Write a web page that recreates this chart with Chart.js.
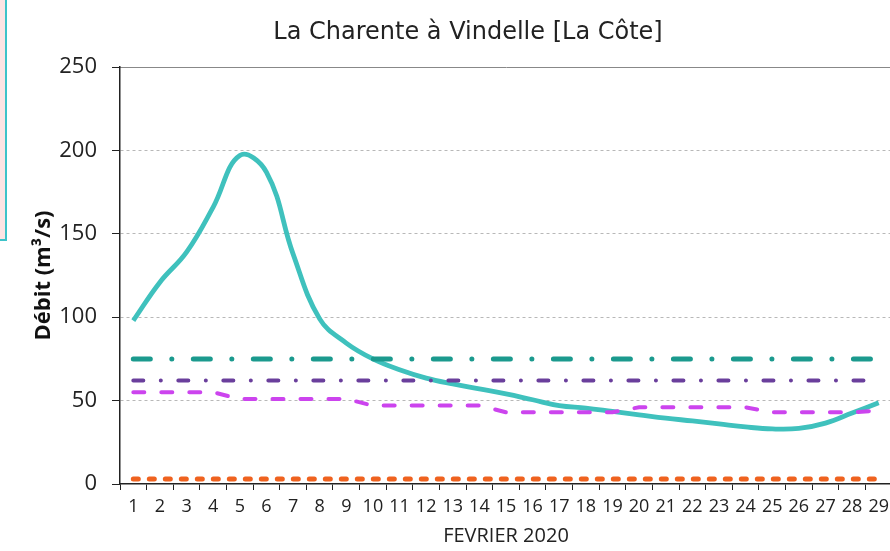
<!DOCTYPE html>
<html>
<head>
<meta charset="utf-8">
<script src="https://cdn.jsdelivr.net/npm/chart.js@4/dist/chart.umd.min.js"></script>
<style>
html,body{margin:0;padding:0;background:#fff;overflow:hidden;width:890px;height:551px;}
#wrap{position:absolute;left:0;top:0;width:936px;height:551px;}
#deco{position:absolute;left:0;top:0;width:5px;height:239px;background:#fde4e4;border-right:2px solid #3ec3c9;border-bottom:2px solid #3ec3c9;z-index:2;}
</style>
</head>
<body>
<div id="deco"></div>
<div id="wrap"><canvas id="c" width="936" height="551"></canvas></div>
<script>
const days = ['1','2','3','4','5','6','7','8','9','10','11','12','13','14','15','16','17','18','19','20','21','22','23','24','25','26','27','28','29'];
const debit = [98,121,139,166,197,187,138,99,84.5,75,68.5,63.5,60,57,54,50.5,47,45.5,43.5,41.5,39.5,37.8,36,34.2,33,33.3,36.5,42.5,48.7];
const seuil1 = [75,75,75,75,75,75,75,75,75,75,75,75,75,75,75,75,75,75,75,75,75,75,75,75,75,75,75,75,75];
const seuil2 = [62,62,62,62,62,62,62,62,62,62,62,62,62,62,62,62,62,62,62,62,62,62,62,62,62,62,62,62,62];
const moyenne = [55,55,55,55,51,51,51,51,51,47,47,47,47,47,43,43,43,43,43,46,46,46,46,46,43,43,43,43,44];
const crise = [3,3,3,3,3,3,3,3,3,3,3,3,3,3,3,3,3,3,3,3,3,3,3,3,3,3,3,3,3];
const yTicks = [0,50,100,150,200,250];

const narrow = "'Liberation Sans Narrow', 'Open Sans', sans-serif";

const titleShift = {
  id: 'titleShift',
  afterLayout(chart) {
    const t = chart.titleBlock;
    if (t) { t.left = 44; t.right = 892; }
  }
};

new Chart(document.getElementById('c'), {
  type: 'line',
  data: {
    labels: days,
    datasets: [
      {data: debit, borderColor: '#3fc1bd', borderWidth: 4.8, pointRadius: 0, tension: 0.4, order: 5},
      {data: seuil1, borderColor: '#1b9a8e', borderWidth: 5, pointRadius: 0, tension: 0, borderCapStyle: 'round', borderDash: [17, 21.5, 0.01, 21.5], order: 3},
      {data: seuil2, borderColor: '#6a3f9c', borderWidth: 4, pointRadius: 0, tension: 0, borderCapStyle: 'round', borderDash: [10, 17.5, 0.01, 17.5], order: 2},
      {data: moyenne, borderColor: '#cc44ee', borderWidth: 4, pointRadius: 0, tension: 0, borderCapStyle: 'round', borderDash: [11, 17], order: 1},
      {data: crise, borderColor: '#ef621f', borderWidth: 5, pointRadius: 0, tension: 0, borderCapStyle: 'round', borderDash: [5, 11], order: 0}
    ]
  },
  plugins: [titleShift],
  options: {
    responsive: false,
    animation: false,
    events: [],
    layout: {padding: {left: 0, right: 44, top: 0, bottom: 0}},
    plugins: {
      legend: {display: false},
      tooltip: {enabled: false},
      title: {
        display: true,
        text: 'La Charente à Vindelle [La Côte]',
        color: '#222',
        font: {family: 'DejaVu Sans', size: 24, weight: 'normal', lineHeight: 1.2},
        padding: {top: 18, bottom: 20.2},
        fullSize: true
      }
    },
    scales: {
      x: {
        type: 'category',
        offset: true,
        grid: {display: true, offset: true, drawOnChartArea: false, drawTicks: true, tickLength: 6, color: '#222', tickColor: '#222'},
        border: {display: true, color: '#222', width: 1.5},
        ticks: {color: '#222', font: {family: narrow, size: 18}, padding: 6, maxRotation: 0, autoSkip: false},
        title: {display: true, text: 'FEVRIER 2020', color: '#222', font: {family: narrow, size: 20}, padding: {top: 0, bottom: 3}},
        afterFit: s => { s.height = 67; }
      },
      x2: {
        type: 'category',
        position: 'top',
        display: true,
        grid: {display: false},
        ticks: {display: false},
        border: {display: true, color: '#888', width: 1},
        afterFit: s => { s.height = 0; }
      },
      y: {
        min: 0, max: 250,
        afterBuildTicks: s => { s.ticks = yTicks.map(v => ({value: v})); },
        grid: {
          color: c => (c.tick && (c.tick.value === 250 || c.tick.value === 0)) ? 'rgba(0,0,0,0)' : '#b8b8b8',
          tickColor: '#222', tickLength: 8, tickBorderDash: [], lineWidth: 1
        },
        border: {display: true, color: '#222', width: 1.5, dash: [3, 3]},
        ticks: {color: '#222', font: {family: 'Open Sans', size: 22}, padding: 15},
        title: {display: true, text: 'Débit (m³/s)', color: '#111', font: {family: 'Open Sans', size: 22, weight: 'bold'}, padding: {top: 31, bottom: 0}},
        afterFit: s => { s.width = 120; }
      }
    }
  }
});
</script>
</body>
</html>
